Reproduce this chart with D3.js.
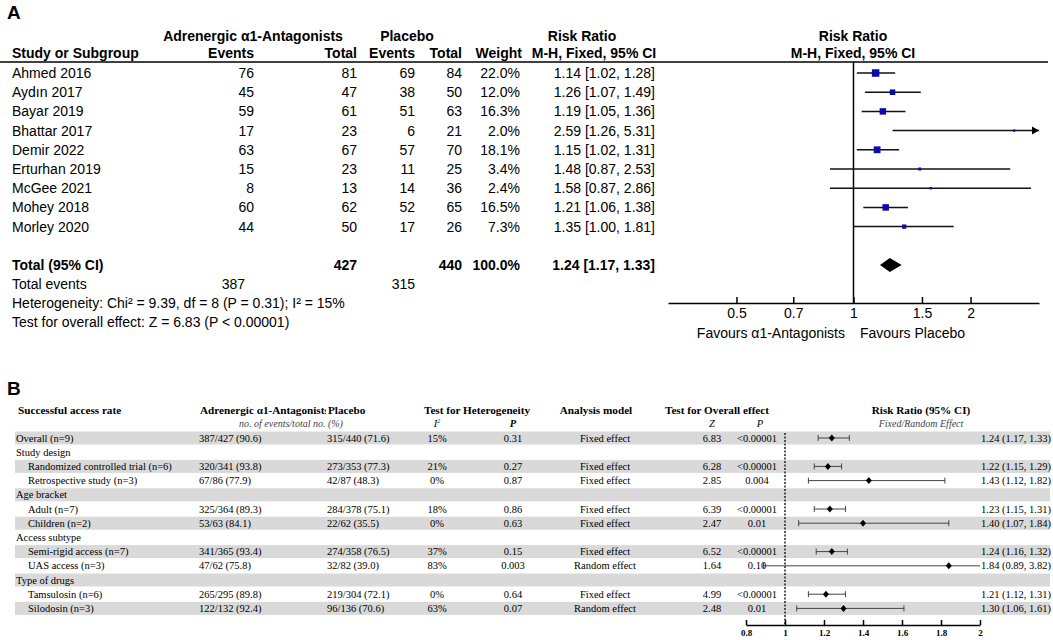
<!DOCTYPE html>
<html lang="en">
  <head>
    <meta charset="utf-8">
    <title>Forest plots</title>
    <script src="https://d3js.org/d3.v7.min.js"></script>
    <style>body { margin: 0; background: #fff; }</style>
  </head>
<body>

<script>
// ---- panel A data ----
var studies = ["Ahmed 2016", "Aydın 2017", "Bayar 2019", "Bhattar 2017", "Demir 2022", "Erturhan 2019", "McGee 2021", "Mohey 2018", "Morley 2020"];
var eventsA = [76, 45, 59, 17, 63, 15, 8, 60, 44];
var totalA = [81, 47, 61, 23, 67, 23, 13, 62, 50];
var eventsP = [69, 38, 51, 6, 57, 11, 14, 52, 17];
var totalP = [84, 50, 63, 21, 70, 25, 36, 65, 26];
var weights = [22.0, 12.0, 16.3, 2.0, 18.1, 3.4, 2.4, 16.5, 7.3];
var rrA = [1.14, 1.26, 1.19, 2.59, 1.15, 1.48, 1.58, 1.21, 1.35];
var loA = [1.02, 1.07, 1.05, 1.26, 1.02, 0.87, 0.87, 1.06, 1.00];
var hiA = [1.28, 1.49, 1.36, 5.31, 1.31, 2.53, 2.86, 1.38, 1.81];
var pooledA = {rr: 1.24, lo: 1.17, hi: 1.33, totA: 427, totP: 440, evA: 387, evP: 315};
var ticksA = [0.5, 0.7, 1, 1.5, 2];

// ---- panel B data ----
var bLabels = ["Overall (n=9)", "Study design", "Randomized controlled trial (n=6)", "Retrospective study (n=3)",
  "Age bracket", "Adult (n=7)", "Children (n=2)", "Access subtype", "Semi-rigid access (n=7)", "UAS access (n=3)",
  "Type of drugs", "Tamsulosin (n=6)", "Silodosin (n=3)"];
var bLevel = [0, 0, 1, 1, 0, 1, 1, 0, 1, 1, 0, 1, 1];
var bAlpha = ["387/427 (90.6)", "", "320/341 (93.8)", "67/86 (77.9)", "", "325/364 (89.3)", "53/63 (84.1)", "", "341/365 (93.4)", "47/62 (75.8)", "", "265/295 (89.8)", "122/132 (92.4)"];
var bPlacebo = ["315/440 (71.6)", "", "273/353 (77.3)", "42/87 (48.3)", "", "284/378 (75.1)", "22/62 (35.5)", "", "274/358 (76.5)", "32/82 (39.0)", "", "219/304 (72.1)", "96/136 (70.6)"];
var bI2 = ["15%", "", "21%", "0%", "", "18%", "0%", "", "37%", "83%", "", "0%", "63%"];
var bPhet = ["0.31", "", "0.27", "0.87", "", "0.86", "0.63", "", "0.15", "0.003", "", "0.64", "0.07"];
var bModel = ["Fixed effect", "", "Fixed effect", "Fixed effect", "", "Fixed effect", "Fixed effect", "", "Fixed effect", "Random effect", "", "Fixed effect", "Random effect"];
var bZ = ["6.83", "", "6.28", "2.85", "", "6.39", "2.47", "", "6.52", "1.64", "", "4.99", "2.48"];
var bP = ["<0.00001", "", "<0.00001", "0.004", "", "<0.00001", "0.01", "", "<0.00001", "0.10", "", "<0.00001", "0.01"];
var bRR = [1.24, null, 1.22, 1.43, null, 1.23, 1.40, null, 1.24, 1.84, null, 1.21, 1.30];
var bLo = [1.17, null, 1.15, 1.12, null, 1.15, 1.07, null, 1.16, 0.89, null, 1.12, 1.06];
var bHi = [1.33, null, 1.29, 1.82, null, 1.31, 1.84, null, 1.32, 3.82, null, 1.31, 1.61];
var ticksB = [0.8, 1, 1.2, 1.4, 1.6, 1.8, 2];

var svg = d3.select("body").append("svg")
    .attr("width", 1053)
    .attr("height", 640);

// =================== Panel A ===================
var fA = "Arial, 'Liberation Sans', sans-serif";
var gA = svg.append("g").attr("font-family", fA).attr("font-size", 14).attr("fill", "#000");

gA.append("text").attr("x", 7).attr("y", 19).attr("font-size", 19).attr("font-weight", "bold").text("A");

var headA = [
  ["Adrenergic α1-Antagonists", 253, 41, "middle"], ["Placebo", 407, 41, "middle"],
  ["Risk Ratio", 582, 41, "middle"], ["Risk Ratio", 853, 41, "middle"],
  ["Study or Subgroup", 12, 58, "start"], ["Events", 254, 58, "end"], ["Total", 357, 58, "end"],
  ["Events", 415, 58, "end"], ["Total", 462, 58, "end"], ["Weight", 522, 58, "end"],
  ["M-H, Fixed, 95% CI", 594, 58, "middle"], ["M-H, Fixed, 95% CI", 853, 58, "middle"]
];
gA.selectAll(".headA").data(headA).join("text")
    .attr("x", d => d[1]).attr("y", d => d[2])
    .attr("text-anchor", d => d[3]).attr("font-weight", "bold")
    .text(d => d[0]);

gA.append("line").attr("x1", 0).attr("x2", 1048).attr("y1", 62).attr("y2", 62)
    .attr("stroke", "#000").attr("stroke-width", 1.5);

var yA = d3.scaleLinear().domain([0, 1]).range([73, 92.2]);
var idx = d3.range(studies.length);

var rows = gA.selectAll(".rowA").data(idx).join("g")
    .attr("transform", i => `translate(0,${yA(i) + 5})`);
rows.append("text").attr("x", 12).text(i => studies[i]);
rows.append("text").attr("x", 254).attr("text-anchor", "end").text(i => eventsA[i]);
rows.append("text").attr("x", 357).attr("text-anchor", "end").text(i => totalA[i]);
rows.append("text").attr("x", 415).attr("text-anchor", "end").text(i => eventsP[i]);
rows.append("text").attr("x", 462).attr("text-anchor", "end").text(i => totalP[i]);
rows.append("text").attr("x", 520).attr("text-anchor", "end").text(i => weights[i].toFixed(1) + "%");
rows.append("text").attr("x", 655).attr("text-anchor", "end")
    .text(i => `${rrA[i].toFixed(2)} [${loA[i].toFixed(2)}, ${hiA[i].toFixed(2)}]`);

// total block
var yTot = 265;
var tot = gA.append("g").attr("transform", `translate(0,${yTot + 5})`).attr("font-weight", "bold");
tot.append("text").attr("x", 12).text("Total (95% CI)");
tot.append("text").attr("x", 357).attr("text-anchor", "end").text(pooledA.totA);
tot.append("text").attr("x", 462).attr("text-anchor", "end").text(pooledA.totP);
tot.append("text").attr("x", 520).attr("text-anchor", "end").text("100.0%");
tot.append("text").attr("x", 655).attr("text-anchor", "end")
    .text(`${pooledA.rr.toFixed(2)} [${pooledA.lo.toFixed(2)}, ${pooledA.hi.toFixed(2)}]`);

gA.append("text").attr("x", 12).attr("y", 289).text("Total events");
gA.append("text").attr("x", 245).attr("y", 289).attr("text-anchor", "end").text(pooledA.evA);
gA.append("text").attr("x", 415).attr("y", 289).attr("text-anchor", "end").text(pooledA.evP);
gA.append("text").attr("x", 12).attr("y", 308).text("Heterogeneity: Chi² = 9.39, df = 8 (P = 0.31); I² = 15%");
gA.append("text").attr("x", 12).attr("y", 327).text("Test for overall effect: Z = 6.83 (P < 0.00001)");

// forest A
var xA = d3.scaleLog().domain([1 / 3, 3]).range([668, 1039]);
var sizeA = d3.scaleSqrt().domain([0, 22]).range([0, 7.5]);
var axisY = 303;

gA.append("line").attr("x1", xA(1)).attr("x2", xA(1)).attr("y1", 62).attr("y2", axisY)
    .attr("stroke", "#000").attr("stroke-width", 1.5);

var ci = gA.selectAll(".ciA").data(idx).join("g");
ci.append("line")
    .attr("x1", i => xA(Math.max(loA[i], 1 / 3)))
    .attr("x2", i => xA(Math.min(hiA[i], 3)))
    .attr("y1", i => yA(i)).attr("y2", i => yA(i))
    .attr("stroke", "#111").attr("stroke-width", 1.5);
ci.filter(i => hiA[i] > 3).append("path")
    .attr("d", i => `M${xA(3) - 7},${yA(i) - 4}L${xA(3)},${yA(i)}L${xA(3) - 7},${yA(i) + 4}Z`)
    .attr("fill", "#000");
ci.append("rect")
    .attr("x", i => xA(rrA[i]) - sizeA(weights[i]) / 2)
    .attr("y", i => yA(i) - sizeA(weights[i]) / 2)
    .attr("width", i => sizeA(weights[i]))
    .attr("height", i => sizeA(weights[i]))
    .attr("fill", "#0b0ba6");

gA.append("path")
    .attr("d", `M${xA(pooledA.lo)},${yTot}L${xA(pooledA.rr)},${yTot - 7}L${xA(pooledA.hi)},${yTot}L${xA(pooledA.rr)},${yTot + 7}Z`)
    .attr("fill", "#000");

var axA = gA.append("g").attr("transform", `translate(0,${axisY})`)
    .call(d3.axisBottom(xA).tickValues(ticksA).tickFormat(d => d).tickSizeInner(-6).tickSizeOuter(0).tickPadding(5));
axA.select(".domain").attr("stroke", "#000").attr("stroke-width", 1.5);
axA.selectAll(".tick line").attr("stroke", "#000").attr("stroke-width", 1.5);
axA.selectAll(".tick text").attr("font-family", fA).attr("font-size", 14).attr("fill", "#000");

gA.append("text").attr("x", 845).attr("y", 338).attr("text-anchor", "end").text("Favours α1-Antagonists");
gA.append("text").attr("x", 860).attr("y", 338).text("Favours Placebo");

// =================== Panel B ===================
var fB = "'Times New Roman', 'Liberation Serif', serif";
var gB = svg.append("g").attr("font-family", fB).attr("font-size", 10.5).attr("fill", "#000");

svg.append("text").attr("x", 7).attr("y", 395).attr("font-family", fA)
    .attr("font-size", 19).attr("font-weight", "bold").text("B");

var yB = d3.scaleLinear().domain([0, 1]).range([438, 452.2]);
var idxB = d3.range(bLabels.length);

gB.selectAll(".band").data(idxB.filter(i => i % 2 === 0)).join("rect")
    .attr("x", 15).attr("width", 1035)
    .attr("y", i => yB(i) - 6.5).attr("height", 13)
    .attr("fill", "#d9d9d9");

// headers
svg.append("defs").append("clipPath").attr("id", "clipAlpha")
    .append("rect").attr("x", 190).attr("y", 395).attr("width", 136).attr("height", 25);
var hb = gB.append("g").attr("font-weight", "bold").attr("font-size", 11.2);
hb.append("text").attr("x", 18).attr("y", 414).text("Successful access rate");
hb.append("text").attr("x", 200).attr("y", 414).attr("clip-path", "url(#clipAlpha)").text("Adrenergic α1-Antagonists");
hb.append("text").attr("x", 328).attr("y", 414).text("Placebo");
hb.append("text").attr("x", 477).attr("y", 414).attr("text-anchor", "middle").text("Test for Heterogeneity");
hb.append("text").attr("x", 596).attr("y", 414).attr("text-anchor", "middle").text("Analysis model");
hb.append("text").attr("x", 717).attr("y", 414).attr("text-anchor", "middle").text("Test for Overall effect");
hb.append("text").attr("x", 921).attr("y", 414).attr("text-anchor", "middle").text("Risk Ratio (95% CI)");

var hi2 = gB.append("g").attr("font-style", "italic").attr("text-anchor", "middle");
hi2.append("text").attr("x", 291).attr("y", 427).attr("font-size", 10).attr("fill", "#444").text("no. of events/total no. (%)");
hi2.append("text").attr("x", 437).attr("y", 427).text("I").append("tspan").attr("font-size", 6).attr("dy", -4).text("2");
hi2.append("text").attr("x", 513).attr("y", 427).attr("font-weight", "bold").text("P");
hi2.append("text").attr("x", 712).attr("y", 427).text("Z");
hi2.append("text").attr("x", 760).attr("y", 427).text("P");
hi2.append("text").attr("x", 921).attr("y", 427).attr("font-size", 10).attr("fill", "#444").text("Fixed/Random Effect");

var rowsB = gB.selectAll(".rowB").data(idxB).join("g")
    .attr("transform", i => `translate(0,${yB(i) + 3.5})`);
rowsB.append("text").attr("x", i => bLevel[i] ? 28 : 16).text(i => bLabels[i]);
rowsB.append("text").attr("x", 199).text(i => bAlpha[i]);
rowsB.append("text").attr("x", 327).text(i => bPlacebo[i]);
rowsB.append("text").attr("x", 437).attr("text-anchor", "middle").text(i => bI2[i]);
rowsB.append("text").attr("x", 513).attr("text-anchor", "middle").text(i => bPhet[i]);
rowsB.append("text").attr("x", 605).attr("text-anchor", "middle").text(i => bModel[i]);
rowsB.append("text").attr("x", 712).attr("text-anchor", "middle").text(i => bZ[i]);
rowsB.append("text").attr("x", 757).attr("text-anchor", "middle").text(i => bP[i]);
rowsB.append("text").attr("x", 981).text(i => bRR[i] == null ? "" : `${bRR[i].toFixed(2)} (${bLo[i].toFixed(2)}, ${bHi[i].toFixed(2)})`);

// forest B
var xB = d3.scaleLinear().domain([0.8, 2]).range([746, 980]);
var axisYB = 625;

gB.append("line").attr("x1", xB(1)).attr("x2", xB(1)).attr("y1", 433).attr("y2", axisYB)
    .attr("stroke", "#222").attr("stroke-width", 1.5).attr("stroke-dasharray", "2,1.5");

var est = idxB.filter(i => bRR[i] != null);
var ciB = gB.selectAll(".ciB").data(est).join("g").attr("stroke", "#444").attr("stroke-width", 1);
ciB.append("line")
    .attr("x1", i => xB(bLo[i])).attr("x2", i => xB(Math.min(bHi[i], 2)))
    .attr("y1", i => yB(i)).attr("y2", i => yB(i));
ciB.append("line")
    .attr("x1", i => xB(bLo[i])).attr("x2", i => xB(bLo[i]))
    .attr("y1", i => yB(i) - 3).attr("y2", i => yB(i) + 3);
ciB.filter(i => bHi[i] <= 2).append("line")
    .attr("x1", i => xB(bHi[i])).attr("x2", i => xB(bHi[i]))
    .attr("y1", i => yB(i) - 3).attr("y2", i => yB(i) + 3);
ciB.append("path")
    .attr("d", i => `M${xB(bRR[i]) - 3},${yB(i)}L${xB(bRR[i])},${yB(i) - 3.5}L${xB(bRR[i]) + 3},${yB(i)}L${xB(bRR[i])},${yB(i) + 3.5}Z`)
    .attr("fill", "#000").attr("stroke", "none");

var axB = gB.append("g").attr("transform", `translate(0,${axisYB})`)
    .call(d3.axisBottom(xB).tickValues(ticksB).tickFormat(d => d).tickSizeInner(-5).tickSizeOuter(0).tickPadding(5));
axB.select(".domain").attr("stroke", "#000").attr("stroke-width", 1.5);
axB.selectAll(".tick line").attr("stroke", "#000").attr("stroke-width", 1.5);
axB.selectAll(".tick text").attr("font-family", fB).attr("font-size", 9)
    .attr("font-weight", "bold").attr("fill", "#000");
</script>
</body>
</html>
